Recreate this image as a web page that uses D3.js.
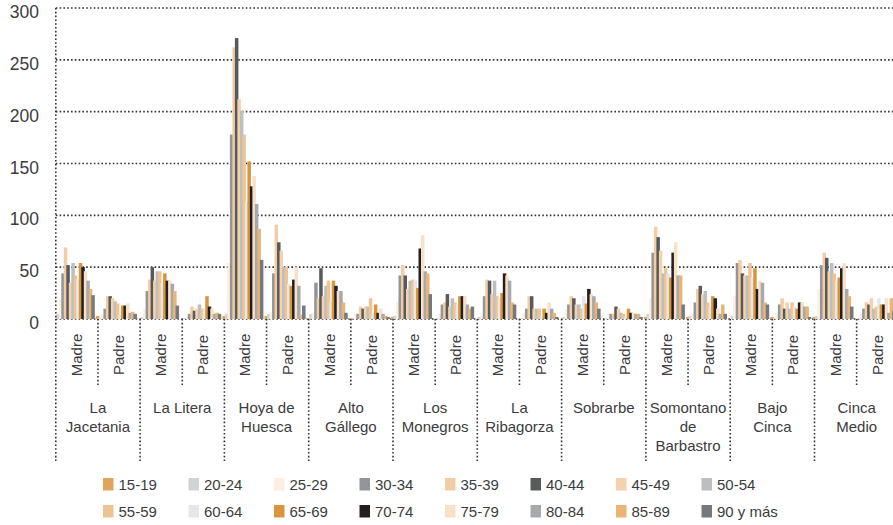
<!DOCTYPE html>
<html>
<head>
<meta charset="utf-8">
<script src="https://cdnjs.cloudflare.com/ajax/libs/d3/7.8.5/d3.min.js"></script>
<style>
  body { margin: 0; background: #fff; }
  text { font-family: "Liberation Sans", Arial, sans-serif; fill: #3c3c3c; }
</style>
</head>
<body>
<div id="chart"></div>
<script>
// regions (multi-line labels split by "|")
const regions = ["La|Jacetania", "La Litera", "Hoya de|Huesca", "Alto|Gállego", "Los|Monegros",
    "La|Ribagorza", "Sobrarbe", "Somontano|de|Barbastro", "Bajo|Cinca", "Cinca|Medio"];
const parents = ["Madre", "Padre"];
const ages = ["15-19", "20-24", "25-29", "30-34", "35-39", "40-44", "45-49", "50-54",
    "55-59", "60-64", "65-69", "70-74", "75-79", "80-84", "85-89", "90 y más"];
const ageColors = ["#E0A45A", "#D1D3D4", "#FCEEE1", "#939598", "#F2CDA4", "#58595B", "#F3D2AE", "#BCBEC0",
    "#EDC594", "#E6E7E8", "#D8953C", "#231F20", "#F8E1C8", "#A7A9AC", "#E8B577", "#77787B"];
const yTicks = [0, 50, 100, 150, 200, 250, 300];

// values per region, one row of 16 age groups
const madre = [
    [0, 5, 20, 44, 69, 52, 35, 54, 42, 38, 54, 50, 46, 37, 29, 23],
    [0, 2, 10, 27, 38, 50, 37, 46, 46, 34, 44, 37, 37, 34, 27, 13],
    [3, 5, 54, 178, 262, 271, 212, 201, 178, 113, 152, 128, 138, 111, 87, 57],
    [1, 5, 6, 35, 20, 49, 22, 32, 37, 16, 37, 32, 27, 27, 16, 6],
    [2, 3, 16, 42, 52, 42, 29, 37, 38, 37, 30, 68, 81, 46, 44, 24],
    [0, 2, 5, 22, 38, 37, 24, 37, 22, 20, 25, 44, 42, 37, 16, 14],
    [0, 2, 10, 14, 22, 20, 14, 14, 10, 22, 15, 29, 24, 22, 16, 10],
    [2, 5, 20, 64, 89, 79, 66, 44, 49, 44, 40, 64, 74, 42, 42, 14],
    [0, 3, 22, 54, 57, 44, 42, 42, 54, 40, 49, 29, 37, 35, 16, 14],
    [2, 3, 29, 52, 64, 59, 46, 54, 44, 37, 40, 49, 54, 29, 22, 12]
];
const padre = [
    [3, 1, 5, 10, 22, 22, 20, 17, 15, 4, 13, 13, 15, 6, 7, 5],
    [0, 1, 2, 5, 12, 8, 10, 14, 10, 10, 22, 12, 10, 5, 6, 5],
    [3, 5, 7, 44, 91, 74, 66, 50, 50, 34, 32, 38, 50, 32, 4, 13],
    [1, 1, 5, 5, 12, 10, 12, 12, 20, 6, 14, 6, 10, 5, 3, 2],
    [0, 1, 5, 14, 16, 24, 12, 20, 16, 14, 22, 22, 22, 14, 10, 12],
    [0, 1, 6, 10, 22, 22, 10, 10, 10, 2, 10, 6, 16, 10, 6, 2],
    [0, 1, 2, 5, 5, 12, 10, 6, 5, 2, 10, 6, 6, 5, 5, 2],
    [2, 3, 6, 16, 29, 32, 24, 27, 16, 12, 22, 20, 10, 5, 14, 5],
    [2, 1, 6, 14, 20, 10, 16, 10, 16, 12, 10, 16, 16, 12, 12, 2],
    [0, 1, 6, 10, 16, 14, 20, 10, 12, 20, 14, 14, 20, 6, 20, 8]
];

const W = 893, H = 525;
const svg = d3.select("#chart").append("svg")
    .attr("width", W).attr("height", H)
    .style("display", "block");

const x0 = d3.scaleBand().domain(regions).range([55.8, 898.8]);
const x1 = d3.scaleBand().domain(parents).range([0, x0.bandwidth()]);
const x2 = d3.scaleBand().domain(ages).range([-2, 38]);
const y = d3.scaleLinear().domain([0, 300]).range([319, 8]);

const dotted = g => g.attr("stroke", "#333").attr("stroke-width", 1.6).attr("stroke-dasharray", "1.6,2.2");

// grid lines
svg.append("g").selectAll("line")
    .data(yTicks)
    .join("line")
    .attr("x1", 55.8).attr("x2", W)
    .attr("y1", d => y(d)).attr("y2", d => y(d))
    .call(dotted);

// y axis labels
svg.append("g").selectAll("text")
    .data(yTicks)
    .join("text")
    .attr("x", 39).attr("y", d => y(d) + 10)
    .attr("text-anchor", "end")
    .attr("font-size", 17.5)
    .text(d => d);

// bars
const rows = [];
regions.forEach((r, ri) => {
    parents.forEach(p => {
        const vals = p === "Madre" ? madre[ri] : padre[ri];
        vals.forEach((v, ai) => rows.push({region: r, parent: p, age: ages[ai], ai: ai, value: v}));
    });
});

svg.append("g").selectAll("rect")
    .data(rows)
    .join("rect")
    .attr("x", d => x0(d.region) + x1(d.parent) + x2(d.age))
    .attr("y", d => y(d.value))
    .attr("width", x2.bandwidth() * 1.4)
    .attr("height", d => y(0) - y(d.value))
    .attr("fill", d => ageColors[d.ai]);

// vertical axis line
svg.append("line")
    .attr("x1", 55.8).attr("x2", 55.8).attr("y1", y(300)).attr("y2", y(0))
    .call(dotted);

// region dividers
svg.append("g").selectAll("line")
    .data(regions)
    .join("line")
    .attr("x1", d => x0(d)).attr("x2", d => x0(d))
    .attr("y1", y(0)).attr("y2", 461)
    .call(dotted);

// Madre / Padre dividers
svg.append("g").selectAll("line")
    .data(regions)
    .join("line")
    .attr("x1", d => x0(d) + x1("Padre")).attr("x2", d => x0(d) + x1("Padre"))
    .attr("y1", y(0)).attr("y2", 385)
    .call(dotted);

// Madre / Padre labels
const sub = [];
regions.forEach(r => parents.forEach(p => sub.push({region: r, parent: p})));
svg.append("g").selectAll("text")
    .data(sub)
    .join("text")
    .attr("transform", d => `translate(${x0(d.region) + x1(d.parent) + x1.bandwidth() / 2 + 5},355) rotate(-90)`)
    .attr("text-anchor", "middle")
    .attr("font-size", 15)
    .text(d => d.parent);

// region labels
const regLab = svg.append("g").selectAll("text")
    .data(regions)
    .join("text")
    .attr("x", d => x0(d) + x0.bandwidth() / 2)
    .attr("y", 413)
    .attr("text-anchor", "middle")
    .attr("font-size", 15);
regLab.selectAll("tspan")
    .data(d => d.split("|"))
    .join("tspan")
    .attr("x", function() { return d3.select(this.parentNode).attr("x"); })
    .attr("dy", (d, i) => i === 0 ? 0 : 19)
    .text(d => d);

// legend
const legend = svg.append("g").selectAll("g")
    .data(ages)
    .join("g")
    .attr("transform", (d, i) => `translate(${103 + (i % 8) * 85.5},${i < 8 ? 478 : 505})`);
legend.append("rect")
    .attr("width", 10.5).attr("height", 12.5)
    .attr("fill", (d, i) => ageColors[i]);
legend.append("text")
    .attr("x", 15.5).attr("y", 11.5)
    .attr("font-size", 15)
    .text(d => d);
</script>
</body>
</html>
